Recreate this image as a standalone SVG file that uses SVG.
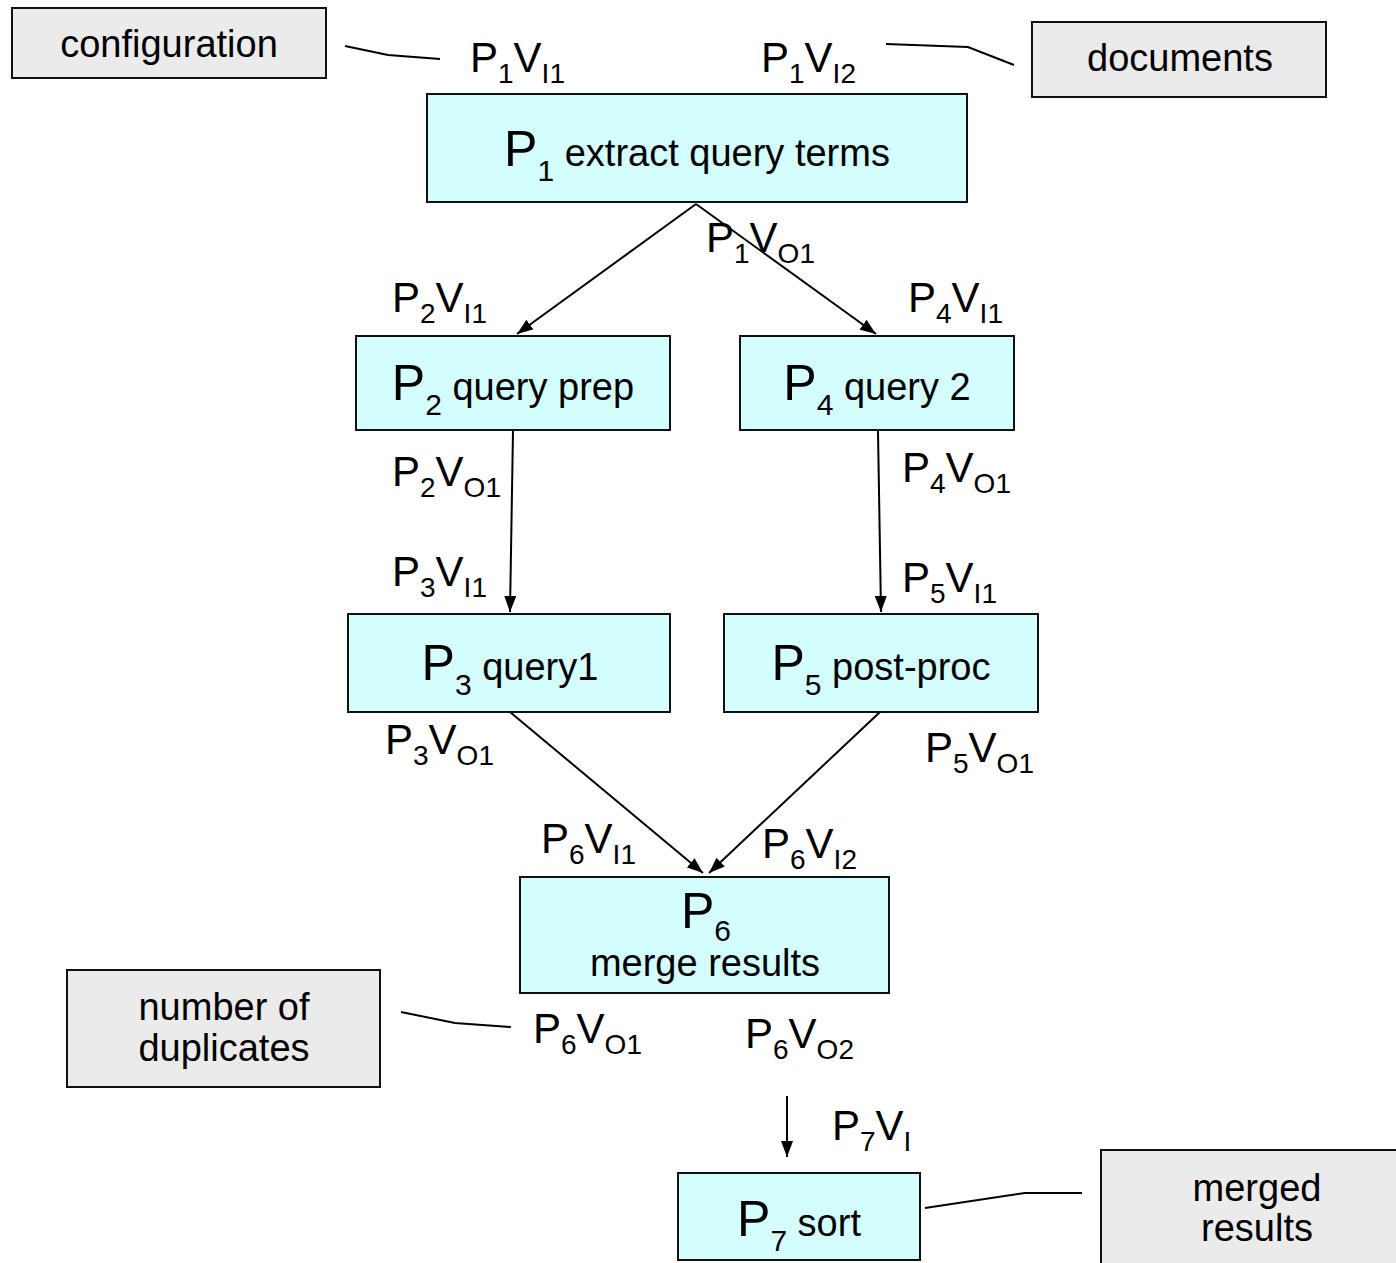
<svg xmlns="http://www.w3.org/2000/svg" width="1396" height="1263" viewBox="0 0 1396 1263">
<defs>
<marker id="ah" viewBox="0 0 16 12" refX="16" refY="6" markerWidth="16" markerHeight="12" markerUnits="userSpaceOnUse" orient="auto">
<path d="M0,0 L16,6 L0,12 z" fill="#000"/>
</marker>
<style>
.proc{fill:#d4fdfe;stroke:#111;stroke-width:2}
.data{fill:#ebebeb;stroke:#111;stroke-width:2}
text{font-family:"Liberation Sans",Arial,sans-serif;fill:#000}
.t{font-size:38px}
.big{font-size:50px}
.sb{font-size:30px}
.lbl{font-size:42px}
.ls{font-size:28px}
.c{text-anchor:middle}
.ln{fill:none;stroke:#000;stroke-width:2}
.ar{fill:none;stroke:#000;stroke-width:2;marker-end:url(#ah)}
</style>
</defs>
<rect width="1396" height="1263" fill="#fff"/>

<g id="connectors">
<polyline class="ln" points="345,46 388,55 440,59"/>
<polyline class="ln" points="886,44 968,47 1014,65"/>
<line class="ar" x1="696" y1="204" x2="517" y2="334"/>
<line class="ar" x1="696" y1="204" x2="876" y2="334"/>
<line class="ar" x1="513" y1="431" x2="510" y2="612"/>
<line class="ar" x1="878" y1="431" x2="881" y2="612"/>
<line class="ar" x1="510" y1="712" x2="703" y2="873"/>
<line class="ar" x1="880" y1="712" x2="709" y2="873"/>
<polyline class="ln" points="401,1012 455,1023 511,1027"/>
<line class="ar" x1="787" y1="1096" x2="787" y2="1157"/>
<polyline class="ln" points="925,1208 1025,1193 1082,1193"/>
</g>

<g id="configuration"><rect class="data" x="12" y="8" width="314" height="70"/><text class="t c" x="169" y="57">configuration</text></g>
<g id="documents"><rect class="data" x="1032" y="22" width="294" height="75"/><text class="t c" x="1180" y="71">documents</text></g>

<g id="p1"><rect class="proc" x="427" y="94" width="540" height="108"/><text class="c" x="697" y="166"><tspan class="big">P</tspan><tspan class="sb" dy="15">1</tspan><tspan class="t" dy="-15"> extract query terms</tspan></text></g>
<g id="p2"><rect class="proc" x="356" y="336" width="314" height="94"/><text class="c" x="513" y="400"><tspan class="big">P</tspan><tspan class="sb" dy="15">2</tspan><tspan class="t" dy="-15"> query prep</tspan></text></g>
<g id="p4"><rect class="proc" x="740" y="336" width="274" height="94"/><text class="c" x="877" y="400"><tspan class="big">P</tspan><tspan class="sb" dy="15">4</tspan><tspan class="t" dy="-15"> query 2</tspan></text></g>
<g id="p3"><rect class="proc" x="348" y="614" width="322" height="98"/><text class="c" x="510" y="680"><tspan class="big">P</tspan><tspan class="sb" dy="15">3</tspan><tspan class="t" dy="-15"> query1</tspan></text></g>
<g id="p5"><rect class="proc" x="724" y="614" width="314" height="98"/><text class="c" x="881" y="680"><tspan class="big">P</tspan><tspan class="sb" dy="15">5</tspan><tspan class="t" dy="-15"> post-proc</tspan></text></g>
<g id="p6"><rect class="proc" x="520" y="877" width="369" height="116"/><text class="c" x="706" y="928"><tspan class="big">P</tspan><tspan class="sb" dy="13">6</tspan></text><text class="t c" x="705" y="976">merge results</text></g>
<g id="duplicates"><rect class="data" x="67" y="970" width="313" height="117"/><text class="t c" x="224" y="1020">number of</text><text class="t c" x="224" y="1061">duplicates</text></g>
<g id="p7"><rect class="proc" x="678" y="1173" width="242" height="87"/><text class="c" x="799" y="1236"><tspan class="big">P</tspan><tspan class="sb" dy="15">7</tspan><tspan class="t" dy="-15"> sort</tspan></text></g>
<g id="merged"><rect class="data" x="1101" y="1150" width="310" height="130"/><text class="t c" x="1257" y="1201">merged</text><text class="t c" x="1257" y="1241">results</text></g>

<g id="labels" class="lbl">
<text x="470" y="72">P<tspan class="ls" dy="11">1</tspan><tspan dy="-11">V</tspan><tspan class="ls" dy="11">I1</tspan></text>
<text x="761" y="72">P<tspan class="ls" dy="11">1</tspan><tspan dy="-11">V</tspan><tspan class="ls" dy="11">I2</tspan></text>
<text x="706" y="252">P<tspan class="ls" dy="11">1</tspan><tspan dy="-11">V</tspan><tspan class="ls" dy="11">O1</tspan></text>
<text x="392" y="312">P<tspan class="ls" dy="11">2</tspan><tspan dy="-11">V</tspan><tspan class="ls" dy="11">I1</tspan></text>
<text x="908" y="312">P<tspan class="ls" dy="11">4</tspan><tspan dy="-11">V</tspan><tspan class="ls" dy="11">I1</tspan></text>
<text x="392" y="486">P<tspan class="ls" dy="11">2</tspan><tspan dy="-11">V</tspan><tspan class="ls" dy="11">O1</tspan></text>
<text x="902" y="482">P<tspan class="ls" dy="11">4</tspan><tspan dy="-11">V</tspan><tspan class="ls" dy="11">O1</tspan></text>
<text x="392" y="586">P<tspan class="ls" dy="11">3</tspan><tspan dy="-11">V</tspan><tspan class="ls" dy="11">I1</tspan></text>
<text x="902" y="592">P<tspan class="ls" dy="11">5</tspan><tspan dy="-11">V</tspan><tspan class="ls" dy="11">I1</tspan></text>
<text x="385" y="754">P<tspan class="ls" dy="11">3</tspan><tspan dy="-11">V</tspan><tspan class="ls" dy="11">O1</tspan></text>
<text x="925" y="762">P<tspan class="ls" dy="11">5</tspan><tspan dy="-11">V</tspan><tspan class="ls" dy="11">O1</tspan></text>
<text x="541" y="853">P<tspan class="ls" dy="11">6</tspan><tspan dy="-11">V</tspan><tspan class="ls" dy="11">I1</tspan></text>
<text x="762" y="858">P<tspan class="ls" dy="11">6</tspan><tspan dy="-11">V</tspan><tspan class="ls" dy="11">I2</tspan></text>
<text x="533" y="1043">P<tspan class="ls" dy="11">6</tspan><tspan dy="-11">V</tspan><tspan class="ls" dy="11">O1</tspan></text>
<text x="745" y="1048">P<tspan class="ls" dy="11">6</tspan><tspan dy="-11">V</tspan><tspan class="ls" dy="11">O2</tspan></text>
<text x="832" y="1140">P<tspan class="ls" dy="11">7</tspan><tspan dy="-11">V</tspan><tspan class="ls" dy="11">I</tspan></text>
</g>
</svg>
